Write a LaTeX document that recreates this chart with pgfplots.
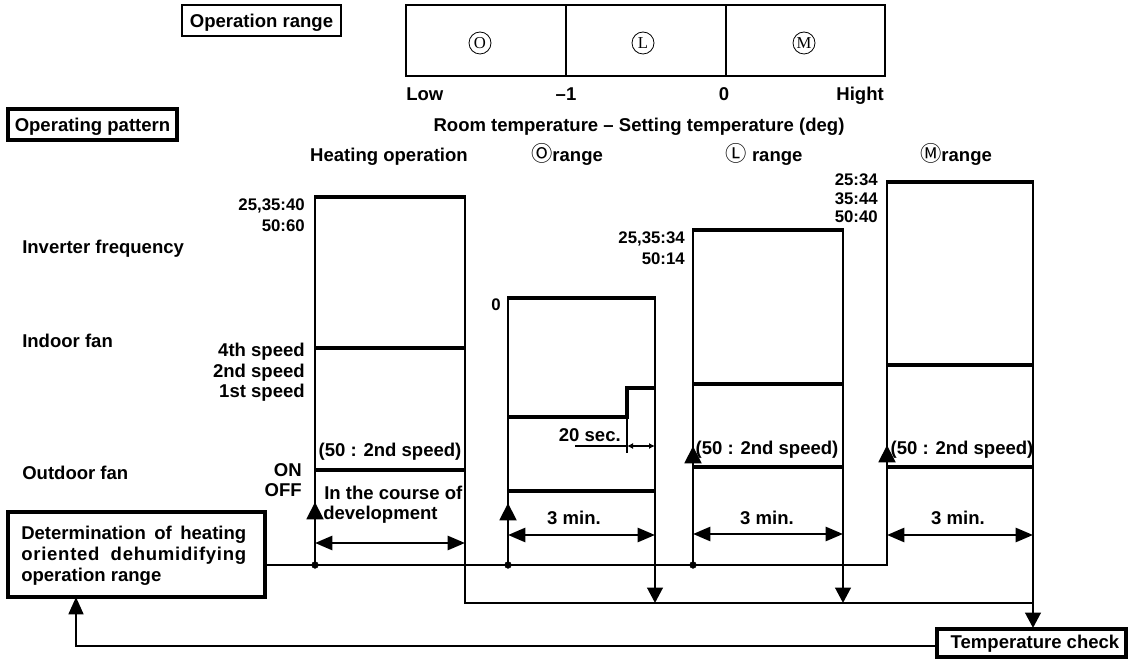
\documentclass[border=0pt]{standalone}
\usepackage{pgfplots}
\pgfplotsset{compat=1.18}
\usepackage{fontspec}
\setmainfont{Liberation Sans}
\newfontfamily\cjk{Noto Sans CJK JP}
\newfontfamily\serifletter{Liberation Serif}
\usetikzlibrary{arrows.meta}
\tikzset{
 T/.style={font=\fontsize{13.9}{16}\selectfont\bfseries, inner sep=0pt, text height=10pt, text depth=0pt},
 N/.style={font=\fontsize{12.6}{15}\selectfont\bfseries, inner sep=0pt, text height=9pt, text depth=0pt},
 thk/.style={black, line width=3.7pt, line cap=butt},
 col/.style={black, line width=2.2pt},
 thn/.style={black, line width=2pt},
 box/.style={black, line width=2.3pt, line join=miter},
 lbox/.style={black, line width=1.1pt, line join=miter},
 upA/.style={-{Triangle[width=12.5pt,length=13pt]}},
 dnA/.style={-{Triangle[width=11.5pt,length=11.5pt]}},
 dbl/.style={{Triangle[width=10.5pt,length=13pt]}-{Triangle[width=10.5pt,length=13pt]}},
 circ/.style={circle, draw, line width=0.6pt, minimum size=16.5pt, inner sep=0pt, font=\serifletter\fontsize{12.5}{12.5}\selectfont},
}
\newcommand{\cl}[1]{{\cjk\mdseries\fontsize{16}{16}\selectfont #1}}
\begin{document}
\begin{tikzpicture}
\begin{axis}[
 width=846pt, height=493.5pt, scale only axis,
 xmin=0, xmax=1128, ymin=0, ymax=658, y dir=reverse,
 hide axis, clip=false,
]
% bounding
\addplot[draw=none] coordinates {(0,0) (1128,658)};

% ---------- top: operation range ----------
\addplot[lbox] coordinates {(182,5) (341,5) (341,36) (182,36) (182,5) (341,5)};
\node[T] at (axis cs:261.5,21) {Operation range};
\addplot[lbox] coordinates {(406,5) (885,5) (885,76) (406,76) (406,5) (885,5)};
\addplot[lbox] coordinates {(566,5) (566,76)};
\addplot[lbox] coordinates {(726,5) (726,76)};
\node[circ] at (axis cs:480,43) {O};
\node[circ] at (axis cs:643,43) {L};
\node[circ] at (axis cs:804,43) {M};
\node[T, anchor=west] at (axis cs:406,94) {Low};
\node[T] at (axis cs:566,94) {\textendash1};
\node[T] at (axis cs:724,94) {0};
\node[T, anchor=east] at (axis cs:884,94) {Hight};
\node[T] at (axis cs:639,125) {Room temperature \textendash\ Setting temperature (deg)};

\addplot[box] coordinates {(8,109) (177,109) (177,140) (8,140) (8,109) (177,109)};
\node[T] at (axis cs:92.5,124.5) {Operating pattern};

% headings
\node[T] at (axis cs:389,155) {Heating operation};
\node[T] at (axis cs:567,155) {\cl{Ⓞ}range};
\node[T] at (axis cs:764,155) {\cl{Ⓛ} range};
\node[T] at (axis cs:956,155) {\cl{Ⓜ}range};

% left labels
\node[T, anchor=west] at (axis cs:22,247) {Inverter frequency};
\node[T, anchor=west] at (axis cs:22,341) {Indoor fan};
\node[T, anchor=west] at (axis cs:22,473) {Outdoor fan};

% ---------- Heating column ----------
\addplot[col] coordinates {(315,565) (315,197)};
\addplot[thn] coordinates {(465,197) (465,603) (1033,603)};
\addplot[thk] coordinates {(314,197) (466,197)};
\addplot[thk] coordinates {(314,348) (466,348)};
\addplot[thk] coordinates {(314,470) (466,470)};
\addplot[col, upA] coordinates {(315,565) (315,502)};
\addplot[thn, dbl] coordinates {(315,543) (465,543)};
\node[N, anchor=east] at (axis cs:305,205) {25,35:40};
\node[N, anchor=east] at (axis cs:305,226) {50:60};
\node[T, anchor=east] at (axis cs:305,350) {4th speed};
\node[T, anchor=east] at (axis cs:305,371) {2nd speed};
\node[T, anchor=east] at (axis cs:305,391) {1st speed};
\node[T] at (axis cs:390,450) {(50 : 2nd speed)};
\node[T, anchor=east] at (axis cs:302,470) {ON};
\node[T, anchor=east] at (axis cs:302,490) {OFF};
\node[T, anchor=west] at (axis cs:324,493) {In the course of};
\node[T, anchor=west] at (axis cs:323,513) {development};

% ---------- O range column ----------
\addplot[col] coordinates {(508,565) (508,298)};
\addplot[col, dnA] coordinates {(655,298) (655,603)};
\addplot[thk] coordinates {(507,298) (656,298)};
\addplot[thk, line join=miter] coordinates {(507,417) (627,417) (627,388) (656,388)};
\addplot[black, line width=1.1pt] coordinates {(627,417) (627,453)};
\addplot[black, line width=1.1pt] coordinates {(575,446) (627,446)};
\addplot[black, line width=1.1pt, {Latex[width=4.5pt,length=4.5pt]}-{Latex[width=4.5pt,length=4.5pt]}] coordinates {(627,446) (655,446)};
\addplot[thk] coordinates {(507,491) (656,491)};
\addplot[col, upA] coordinates {(508,565) (508,503)};
\addplot[thn, dbl] coordinates {(508,535) (655,535)};
\node[N, anchor=east] at (axis cs:501,305) {0};
\node[T, anchor=east] at (axis cs:621,435) {20 sec.};
\node[T] at (axis cs:574,518) {3 min.};

% ---------- L range column ----------
\addplot[col] coordinates {(693,565) (693,230)};
\addplot[col, dnA] coordinates {(843,230) (843,603)};
\addplot[thk] coordinates {(692,230) (844,230)};
\addplot[thk] coordinates {(692,384) (844,384)};
\addplot[thk] coordinates {(692,467) (844,467)};
\addplot[col, upA] coordinates {(693,565) (693,446)};
\addplot[thn, dbl] coordinates {(693,534) (843,534)};
\node[N, anchor=east] at (axis cs:685,238) {25,35:34};
\node[N, anchor=east] at (axis cs:685,259) {50:14};
\node[T] at (axis cs:767,448) {(50 : 2nd speed)};
\node[T] at (axis cs:767,518) {3 min.};

% ---------- M range column ----------
\addplot[thn] coordinates {(265,565) (887,565) (887,182)};
\addplot[col, dnA] coordinates {(1033,182) (1033,628)};
\addplot[thk] coordinates {(886,182) (1034,182)};
\addplot[thk] coordinates {(886,365) (1034,365)};
\addplot[thk] coordinates {(886,467) (1034,467)};
\addplot[col, upA] coordinates {(887,565) (887,445)};
\addplot[thn, dbl] coordinates {(887,535) (1033,535)};
\node[N, anchor=east] at (axis cs:878,180) {25:34};
\node[N, anchor=east] at (axis cs:878,199) {35:44};
\node[N, anchor=east] at (axis cs:878,217) {50:40};
\node[T] at (axis cs:962,448) {(50 : 2nd speed)};
\node[T] at (axis cs:958,518) {3 min.};

% junction dots
\addplot[only marks, mark=*, mark size=2.5pt, black] coordinates {(315,565) (508,565) (693,565)};

% ---------- determination box & feedback ----------
\addplot[box] coordinates {(8,512) (265,512) (265,597) (8,597) (8,512) (265,512)};
\node[T, anchor=west] at (axis cs:21,533) {\makebox[168.75pt][s]{Determination of heating}};
\node[T, anchor=west] at (axis cs:21,554) {\addfontfeature{LetterSpace=4}\makebox[168.75pt][s]{oriented dehumidifying}};
\node[T, anchor=west] at (axis cs:21,575) {operation range};

\addplot[thn, -{Triangle[width=11pt,length=13pt]}] coordinates {(937,646) (76,646) (76,597)};

\addplot[box] coordinates {(937,629) (1126,629) (1126,657) (937,657) (937,629) (1126,629)};
\node[T] at (axis cs:1035,642) {Temperature check};
\end{axis}
\end{tikzpicture}
\end{document}
